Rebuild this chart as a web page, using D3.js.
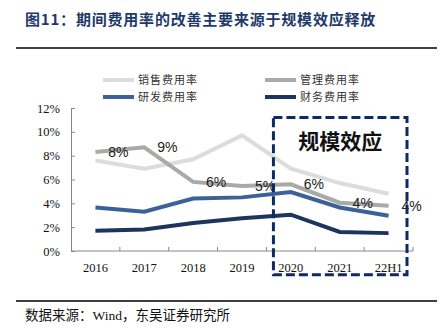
<!DOCTYPE html>
<html>
<head>
  <meta charset="utf-8">
  <title>期间费用率</title>
  <style>
    body { margin: 0; background: #fff; }
  </style>
</head>
<body>
  <div class="container"></div>

  <script src="https://cdn.jsdelivr.net/npm/d3@7"></script>
  <script type="text/javascript">
    var years = ["2016", "2017", "2018", "2019", "2020", "2021", "22H1"];
    var sales   = [7.6, 6.9, 7.7, 9.7, 6.9, 5.7, 4.8];   // 销售费用率
    var admin   = [8.3, 8.7, 5.8, 5.45, 5.6, 4.05, 3.8]; // 管理费用率
    var rd      = [3.65, 3.3, 4.4, 4.5, 4.95, 3.65, 2.95]; // 研发费用率
    var finance = [1.7, 1.8, 2.35, 2.75, 3.05, 1.6, 1.5]; // 财务费用率
    var adminLabels = ["8%", "9%", "6%", "5%", "6%", "4%", "4%"];
    var yTicks = [0, 2, 4, 6, 8, 10, 12];

    var W = 441, H = 334;
    var margin = {top: 108, right: 28, bottom: 83, left: 71},
        width = W - margin.left - margin.right,
        height = H - margin.top - margin.bottom;

    var svg = d3.select(".container")
        .append("svg")
        .attr("width", W)
        .attr("height", H);

    var cjk = "'Noto Sans CJK SC', sans-serif";
    var serif = "'Liberation Serif', 'Times New Roman', serif";

    // title + rules
    svg.append("text")
        .attr("x", 25)
        .attr("y", 25)
        .attr("font-family", cjk)
        .attr("font-weight", "bold")
        .attr("font-size", 15)
        .attr("letter-spacing", 0.8)
        .attr("fill", "#1f3a6a")
        .text("图11：期间费用率的改善主要来源于规模效应释放");

    svg.append("line")
        .attr("x1", 16).attr("x2", 437)
        .attr("y1", 48).attr("y2", 48)
        .attr("stroke", "#000").attr("stroke-width", 1.5);

    svg.append("line")
        .attr("x1", 16).attr("x2", 437)
        .attr("y1", 301).attr("y2", 301)
        .attr("stroke", "#000").attr("stroke-width", 1.5);

    svg.append("text")
        .attr("x", 25)
        .attr("y", 320)
        .attr("font-family", serif + ", " + cjk)
        .attr("font-size", 13.5)
        .attr("fill", "#111")
        .text("数据来源：Wind，东吴证券研究所");

    var g = svg.append("g")
        .attr("transform", "translate(" + margin.left + "," + margin.top + ")");

    var x = d3.scaleBand()
        .range([0, width])
        .domain(years);

    var y = d3.scaleLinear()
        .range([height, 0])
        .domain([0, 12]);

    // y axis (ticks point inward)
    var yAxis = g.append("g")
        .call(d3.axisLeft(y).tickValues(yTicks).tickFormat(function(d){ return d + "%"; })
              .tickSizeInner(-4).tickSizeOuter(0).tickPadding(11));
    yAxis.select(".domain").attr("stroke", "#888");
    yAxis.selectAll(".tick line").attr("stroke", "#888");
    yAxis.selectAll("text")
        .attr("font-family", serif)
        .attr("font-size", 12.5)
        .attr("fill", "#111");

    // x axis, ticks at category boundaries
    var xAxis = g.append("g")
        .attr("transform", "translate(0," + height + ")");
    xAxis.append("line")
        .attr("x1", 0).attr("x2", width)
        .attr("stroke", "#888");
    xAxis.selectAll(".xt")
        .data(years)
        .enter()
        .append("line")
        .attr("x1", function(d){ return x(d) + x.bandwidth(); })
        .attr("x2", function(d){ return x(d) + x.bandwidth(); })
        .attr("y1", 0).attr("y2", -4)
        .attr("stroke", "#888");
    xAxis.selectAll(".xl")
        .data(years)
        .enter()
        .append("text")
        .attr("x", function(d){ return x(d) + x.bandwidth() / 2; })
        .attr("y", 21)
        .attr("text-anchor", "middle")
        .attr("font-family", serif)
        .attr("font-size", 12.5)
        .attr("fill", "#111")
        .text(function(d){ return d; });

    var line = d3.line()
        .x(function(d, i){ return x(years[i]) + x.bandwidth() / 2; })
        .y(function(d){ return y(d); });

    var series = [
        {name: "销售费用率", values: sales, color: "#dcdcdc"},
        {name: "管理费用率", values: admin, color: "#a9a9a9"},
        {name: "研发费用率", values: rd, color: "#3b6196"},
        {name: "财务费用率", values: finance, color: "#1b355f"}
    ];

    series.forEach(function(s){
        g.append("path")
            .datum(s.values)
            .attr("d", line)
            .attr("fill", "none")
            .attr("stroke", s.color)
            .attr("stroke-width", 4);
    });

    // labels on 管理费用率
    g.selectAll(".lab")
        .data(admin)
        .enter()
        .append("text")
        .attr("x", function(d, i){ return x(years[i]) + x.bandwidth() / 2 + 23; })
        .attr("y", function(d){ return y(d) + 5; })
        .attr("text-anchor", "middle")
        .attr("font-family", "'Liberation Sans', Arial, sans-serif")
        .attr("font-size", 14)
        .attr("fill", "#222")
        .text(function(d, i){ return adminLabels[i]; });

    // legend
    var legendPos = [[103, 80], [265, 80], [103, 97], [265, 97]];
    series.forEach(function(s, i){
        var p = legendPos[i];
        svg.append("line")
            .attr("x1", p[0]).attr("x2", p[0] + 31)
            .attr("y1", p[1]).attr("y2", p[1])
            .attr("stroke", s.color)
            .attr("stroke-width", 4);
        svg.append("text")
            .attr("x", p[0] + 35)
            .attr("y", p[1] + 4)
            .attr("font-family", cjk)
            .attr("font-size", 11)
            .attr("letter-spacing", 1)
            .attr("fill", "#333")
            .text(s.name);
    });

    // dashed highlight box over 2020 - 22H1
    var boxX0 = x("2020") + 7, boxX1 = x("22H1") + x.bandwidth() - 6;
    g.append("rect")
        .attr("x", boxX0)
        .attr("y", y(11.2))
        .attr("width", boxX1 - boxX0)
        .attr("height", y(-2) - y(11.2))
        .attr("fill", "none")
        .attr("stroke", "#0c2a66")
        .attr("stroke-width", 3)
        .attr("stroke-dasharray", "9,4");

    g.append("text")
        .attr("x", (boxX0 + boxX1) / 2)
        .attr("y", y(8.6))
        .attr("text-anchor", "middle")
        .attr("font-family", cjk)
        .attr("font-weight", "bold")
        .attr("font-size", 21)
        .attr("fill", "#111")
        .text("规模效应");
  </script>
</body>
</html>
